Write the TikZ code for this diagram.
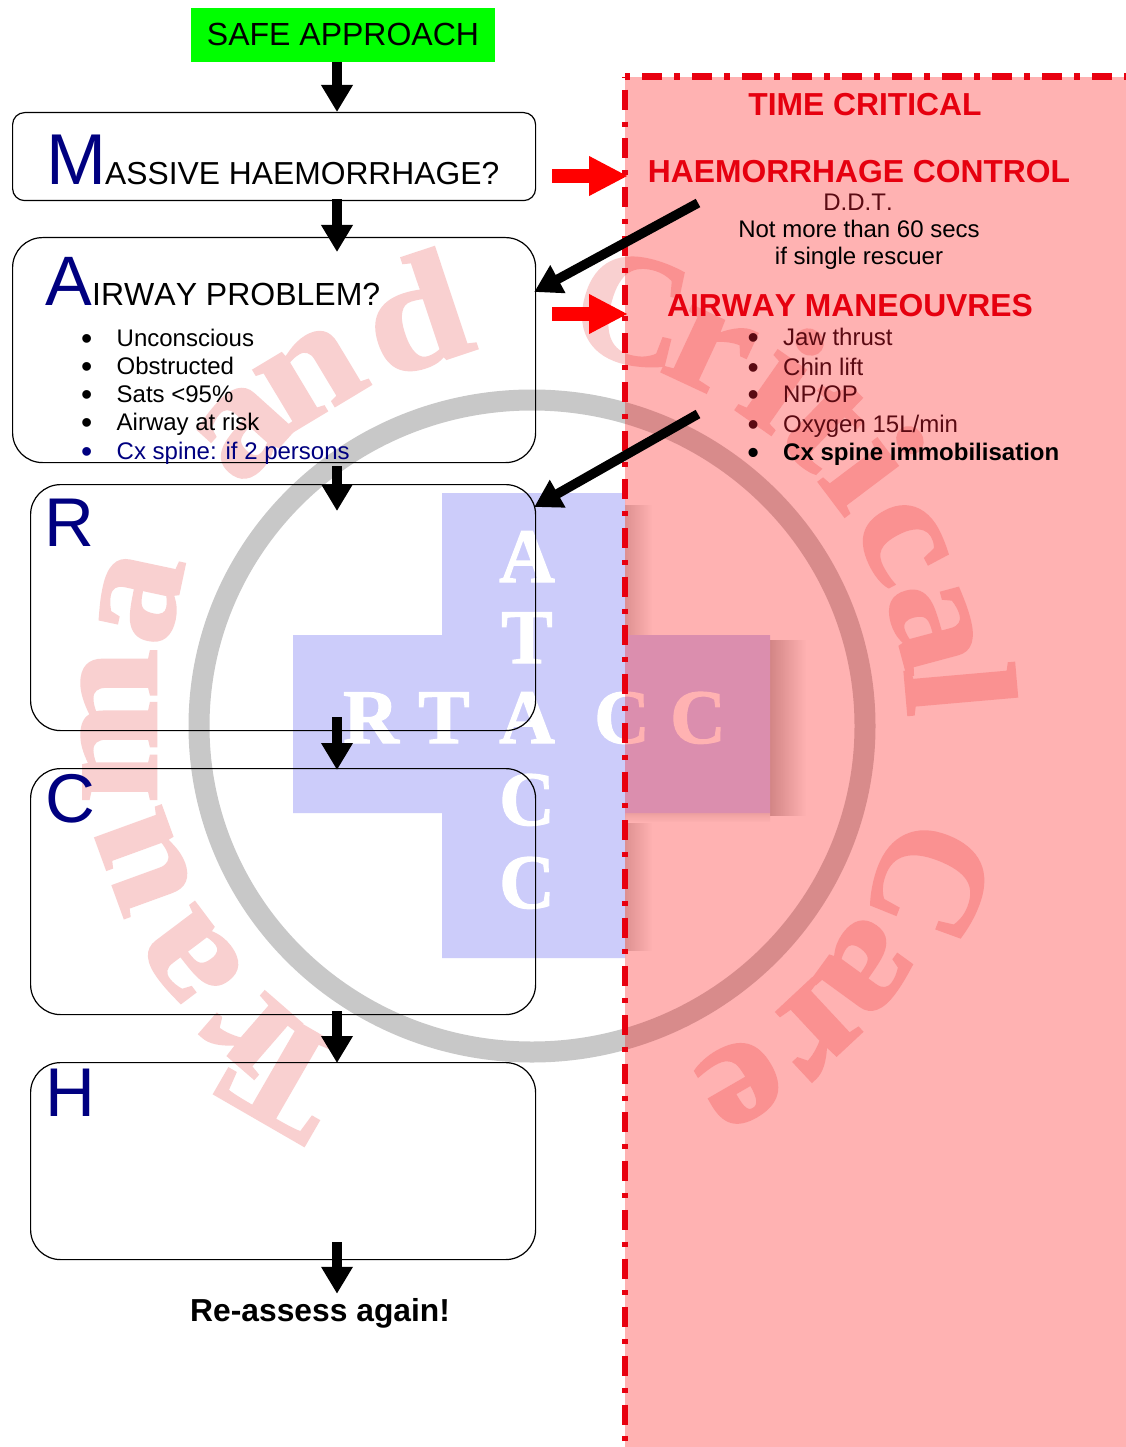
\documentclass[tikz,border=0pt]{standalone}
\usepackage{fontspec}
\setmainfont[Kerning=Off]{Liberation Sans}
\newfontfamily\wmfont[BoldFeatures={FakeBold=1.6}]{Liberation Serif}
\usetikzlibrary{arrows.meta,calc}
\definecolor{navy}{HTML}{000080}
\definecolor{hred}{HTML}{E6000F}
\definecolor{bordred}{HTML}{E8000F}
\definecolor{dimred}{HTML}{5A0A12}
\definecolor{wmpink}{HTML}{F9D0D0}
\definecolor{ringgray}{HTML}{C8C8C8}
\definecolor{crossblue}{HTML}{CCCCFA}
\newcommand\fsz[1]{\fontsize{#1}{#1}\selectfont}
\newcommand\bul[1]{\makebox[35.5pt][l]{\raisebox{-3pt}{\fsz{32}•}}#1}
\tikzset{
  qbox/.style={draw=black,line width=1.2pt,inner sep=0pt,anchor=north west,rounded corners=30pt},
  txtleft/.style={inner sep=0pt,anchor=base west,font=\fsz{24}},
  txtmid/.style={inner sep=0pt,anchor=base,font=\fsz{24}},
  bigcap/.style={txtleft,text=navy},
  headtxt/.style={txtmid,text=hred,font=\fsz{31.8}\bfseries},
  varrow/.style={line width=10pt,-{Triangle[length=27pt,width=30pt]},black},
  rarrow/.style={line width=14pt,-{Triangle[length=39pt,width=37pt]},red},
  darrow/.style={line width=9.5pt,-{Triangle[length=27pt,width=30pt]},black},
  wmletter/.style={inner sep=0pt,anchor=base,text=wmpink,font=\wmfont\fsz{158}\bfseries},
  crossletter/.style={inner sep=0pt,anchor=base,text=white,font=\wmfont\fsz{77}\bfseries},
}
\begin{document}
\begin{tikzpicture}[x=1pt,y=-1pt]
\useasboundingbox (0,0) rectangle (1126,1447);
\fill[white] (0,0) rectangle (1126,1447);
% logo shadow
\shade[left color=black!25,right color=white] (770,640) rectangle (806,815);
\shade[left color=black!20,right color=white] (623,505) rectangle (652,635);
\shade[left color=black!20,right color=white] (623,813) rectangle (652,950);
\shade[top color=black!10,bottom color=white] (442,813) rectangle (770,822);
% logo cross
\fill[crossblue] (442,493) -- (625,493) -- (625,635) -- (770,635) -- (770,813) -- (625,813)
  -- (625,958) -- (442,958) -- (442,813) -- (293,813) -- (293,635) -- (442,635) -- cycle;
\foreach \ch/\px/\py [count=\i] in {A/527/582,T/527/663,R/371/743,T/444/743,A/527/743,C/622/743,C/698/743,C/527/825,C/527/908}
  \node[crossletter,name=cl\i] at (\px,\py) {\ch};
% logo ring
\draw[ringgray,line width=21pt] (532,726) ellipse [x radius=333pt,y radius=326pt];
% logo ring text: letter / position angle / rotation / horizontal stretch
\foreach \ch/\th/\rt/\sx [count=\i] in {T/216/210/1.03,r/223/221/1.12,a/236/233/1.14,u/251/250/1.14,m/270/270/1.18,a/288.7/282/1.14,a/316/312/1.14,n/327.5/329/1.14,d/344.5/341.6/1.14,C/13.6/13/.97,r/25.4/25/1.12,i/36/35/1.12,t/44/44/1.12,i/52.8/53/1.12,c/63.5/62/1.12,a/76/75/1.14,l/85/85/1.12,C/111.3/111/.97,a/125.9/126/1.14,r/137.3/137/1.12,e/149.6/150/1.14}
  \node[wmletter,name=wl\i,rotate=-\rt] at ({532+376*sin(\th)},{726-376*cos(\th)}) {\scalebox{\sx}[1]{\ch}};
% question boxes
\node[qbox,rounded corners=12pt,minimum width=523pt,minimum height=88pt] (mbox) at (12,112) {};
\node[qbox,minimum width=523pt,minimum height=225pt] (abox) at (12,237) {};
\node[qbox,minimum width=505pt,minimum height=246pt] (rbox) at (30,484) {};
\node[qbox,minimum width=505pt,minimum height=246pt] (cbox) at (30,768) {};
\node[qbox,minimum width=505pt,minimum height=197pt] (hbox) at (30,1062) {};
% time-critical panel
\node[fill=red,fill opacity=0.3,inner sep=0pt,minimum width=501pt,minimum height=1370pt,anchor=north west] (panel) at (625,77) {};
\draw[bordred,line width=6pt,dash pattern=on 20pt off 11.85pt on 5pt off 11.85pt,dash phase=36pt] (panel.north west) -- (panel.south west);
\draw[bordred,line width=7pt,dash pattern=on 20pt off 12pt on 6pt off 12pt,dash phase=33pt] (panel.north west) -- (panel.north east);
% left column text
\node[fill=green,inner sep=0pt,minimum width=304pt,minimum height=54pt,font=\fsz{32}] (safe) at (343,35) {\raisebox{2pt}{SAFE APPROACH}};
\node[bigcap,font=\fsz{72}] (mcap) at (46,185) {M};
\node[txtleft,font=\fsz{31.8}] (mtitle) at (105,185) {ASSIVE HAEMORRHAGE?};
\node[bigcap,font=\fsz{70}] (acap) at (45,305) {A};
\node[txtleft,font=\fsz{32}] (atitle) at (92,305) {IRWAY PROBLEM?};
\node[txtleft] (a1) at (81,346) {\bul{Unconscious}};
\node[txtleft] (a2) at (81,374) {\bul{Obstructed}};
\node[txtleft] (a3) at (81,402) {\bul{Sats <95\%}};
\node[txtleft] (a4) at (81,430) {\bul{Airway at risk}};
\node[txtleft,text=navy] (a5) at (81,459) {\bul{Cx spine: if 2 persons}};
\node[bigcap,font=\fsz{69}] (rcap) at (44,546) {R};
\node[bigcap,font=\fsz{69}] (ccap) at (45,822) {C};
\node[bigcap,font=\fsz{69}] (hcap) at (45,1116) {H};
\node[txtleft,font=\fsz{31.8}\bfseries] (reassess) at (190,1321) {Re-assess again!};
% right column text
\node[headtxt] (tc) at (865,116) {TIME CRITICAL};
\node[headtxt] (hc) at (859,183) {HAEMORRHAGE CONTROL};
\node[txtmid,text=dimred] (ddt) at (858,211) {D.D.T.};
\node[txtmid] (nm) at (859,238) {Not more than 60 secs};
\node[txtmid] (sr) at (859,265) {if single rescuer};
\node[headtxt] (am) at (850,316) {AIRWAY MANEOUVRES};
\node[txtleft,text=dimred] (b1) at (747.5,345) {\bul{Jaw thrust}};
\node[txtleft,text=dimred] (b2) at (747.5,375) {\bul{Chin lift}};
\node[txtleft,text=dimred] (b3) at (747.5,402) {\bul{NP/OP}};
\node[txtleft,text=dimred] (b4) at (747.5,432) {\bul{Oxygen 15L/min}};
\node[txtleft,font=\fsz{24}\bfseries] (b5) at (747.5,460) {\bul{Cx spine immobilisation}};
% connectors
\coordinate (ax) at (337,0);
\draw[varrow] (safe.south -| ax) -- (mbox.north -| ax);
\draw[varrow] ($(mbox.south -| ax)+(0,-2)$) -- ($(abox.north -| ax)+(0,15)$);
\draw[varrow] ($(abox.south -| ax)+(0,3)$) -- ($(rbox.north -| ax)+(0,27)$);
\draw[varrow] ($(rbox.south -| ax)+(0,-14)$) -- ($(cbox.north -| ax)+(0,2)$);
\draw[varrow] ($(cbox.south -| ax)+(0,-4)$) -- ($(hbox.north -| ax)+(0,1)$);
\draw[varrow] ($(hbox.south -| ax)+(0,-18)$) -- ($(reassess.north -| ax)+(0,-4)$);
\coordinate (r1) at (552,176);
\coordinate (r2) at (552,314);
\draw[rarrow] (r1) -- ($(panel.west |- r1)+(3,0)$);
\draw[rarrow] (r2) -- ($(panel.west |- r2)+(3,0)$);
\coordinate (d1) at (698,203);
\coordinate (d2) at (698,414);
\draw[darrow] (d1) -- ($(abox.north east)+(-2,55)$);
\draw[darrow] (d2) -- ($(rbox.north east)+(-2,23)$);
\end{tikzpicture}
\end{document}
